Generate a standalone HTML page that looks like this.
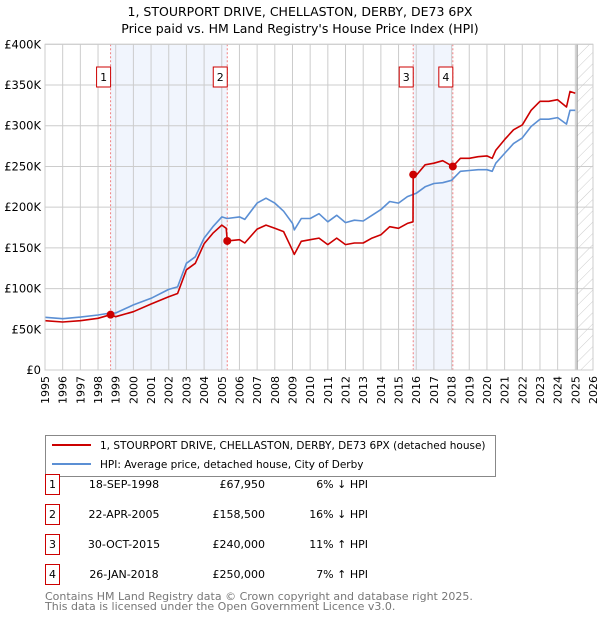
<!DOCTYPE html>
<html><head><meta charset="utf-8"><style>
body{margin:0;background:#fff;font-family:"Liberation Sans","DejaVu Sans",sans-serif;}
</style></head><body>
<svg width="600" height="620" xmlns="http://www.w3.org/2000/svg" font-family="DejaVu Sans, Liberation Sans, sans-serif">
<defs><pattern id="hatch" width="8" height="8" patternUnits="userSpaceOnUse" patternTransform="rotate(45)"><line x1="0" y1="0" x2="0" y2="8" stroke="#ccc" stroke-width="1"/></pattern></defs>
<text x="300" y="16" text-anchor="middle" font-size="12.5">1, STOURPORT DRIVE, CHELLASTON, DERBY, DE73 6PX</text>
<text x="300" y="33" text-anchor="middle" font-size="12.5">Price paid vs. HM Land Registry's House Price Index (HPI)</text>
<g id="plot"></g>
<g id="legend">
<rect x="45.5" y="435.5" width="450" height="41" fill="#fff" stroke="#888"/>
<line x1="52" y1="445" x2="91" y2="445" stroke="#cc0000" stroke-width="2"/>
<text x="100" y="449" font-size="10.5">1, STOURPORT DRIVE, CHELLASTON, DERBY, DE73 6PX (detached house)</text>
<line x1="52" y1="464" x2="91" y2="464" stroke="#5b8fd4" stroke-width="2"/>
<text x="100" y="468" font-size="10.5">HPI: Average price, detached house, City of Derby</text>
</g>
<g id="table" font-size="11"></g>
<text x="45" y="600" font-size="11" fill="#777">Contains HM Land Registry data © Crown copyright and database right 2025.</text>
<text x="45" y="610" font-size="11" fill="#777">This data is licensed under the Open Government Licence v3.0.</text>
</svg>
<script>
const yTicks=[0,50000,100000,150000,200000,250000,300000,350000,400000];
const yTickLabels=["£0","£50K","£100K","£150K","£200K","£250K","£300K","£350K","£400K"];
const years=[1995,1996,1997,1998,1999,2000,2001,2002,2003,2004,2005,2006,2007,2008,2009,2010,2011,2012,2013,2014,2015,2016,2017,2018,2019,2020,2021,2022,2023,2024,2025,2026];
const hpiT=[1995,1996,1997,1998,1998.7,1999,2000,2001,2002,2002.5,2003,2003.5,2004,2004.5,2005,2005.3,2006,2006.3,2007,2007.5,2008,2008.5,2009,2009.1,2009.5,2010,2010.5,2011,2011.5,2012,2012.5,2013,2013.5,2014,2014.5,2015,2015.5,2016,2016.5,2017,2017.5,2018,2018.5,2019,2019.5,2020,2020.3,2020.5,2021,2021.5,2022,2022.5,2023,2023.5,2024,2024.5,2024.7,2025];
const hpiV=[64700,63000,65000,67500,70000,70000,80000,88000,99000,102000,131000,139000,162000,176000,188000,186000,188000,185000,205000,211000,205000,195000,180000,172000,186000,186000,192000,182000,190000,181000,184000,183000,190000,197000,207000,205000,213000,217000,225000,229000,230000,233000,244000,245000,246000,246000,244000,254000,266000,278000,285000,299000,308000,308000,310000,302000,319000,319000];
const priceT=[1995,1996,1997,1998,1998.71,1999,2000,2001,2002,2002.5,2003,2003.5,2004,2004.5,2005,2005.25,2005.31,2006,2006.3,2007,2007.5,2008,2008.5,2009,2009.1,2009.5,2010,2010.5,2011,2011.5,2012,2012.5,2013,2013.5,2014,2014.5,2015,2015.5,2015.82,2015.83,2016,2016.5,2017,2017.5,2018.07,2018.5,2019,2019.5,2020,2020.3,2020.5,2021,2021.5,2022,2022.5,2023,2023.5,2024,2024.5,2024.7,2025];
const priceV=[60600,59000,60600,63500,67950,65500,71600,81000,90000,94000,123000,131000,155000,168000,178000,174000,158500,160000,156000,173000,178000,174000,170000,147000,142000,158000,160000,162000,154000,162000,154000,156000,156000,162000,166000,176000,174000,180000,182000,240000,239000,252000,254000,257000,250000,260000,260000,262000,263000,260000,270000,283000,295000,301000,319000,330000,330000,332000,323000,342000,340000];
const saleNums=["1","2","3","4"];
const saleT=[1998.71,2005.31,2015.83,2018.07];
const saleV=[67950,158500,240000,250000];
const saleDates=["18-SEP-1998","22-APR-2005","30-OCT-2015","26-JAN-2018"];
const salePrices=["£67,950","£158,500","£240,000","£250,000"];
const saleDiffs=["6% ↓ HPI","16% ↓ HPI","11% ↑ HPI","7% ↑ HPI"];
const X0=45,X1=593,Y0=370,Y1=44.3;
const xs=t=>X0+(t-1995)/(2026-1995)*(X1-X0);
const ys=v=>Y0-v/400000*(Y0-Y1);
const NS="http://www.w3.org/2000/svg";
function mk(p,tag,a){const e=document.createElementNS(NS,tag);for(const k in a)e.setAttribute(k,a[k]);p.appendChild(e);return e;}
const plot=document.getElementById('plot');
for(let i=0;i<saleT.length;i+=2){const r=mk(plot,'rect',{x:xs(saleT[i]),y:Y1,width:xs(saleT[i+1])-xs(saleT[i]),height:Y0-Y1,fill:'#eef3fc',opacity:0.8});

}
const hz=mk(plot,'rect',{x:xs(2025.1),y:Y1,width:X1-xs(2025.1),height:Y0-Y1,fill:'url(#hatch)'});


years.forEach(y=>{const l=mk(plot,'line',{x1:xs(y),x2:xs(y),y1:Y1,y2:Y0,stroke:'#ccc','stroke-width':1});


const t=mk(plot,'text',{x:0,y:0,'font-size':11,'text-anchor':'end',transform:`translate(${xs(y)+4},${Y0+6}) rotate(-90)`});t.textContent=y;

});
yTicks.forEach((v,i)=>{const l=mk(plot,'line',{x1:X0,x2:X1,y1:ys(v),y2:ys(v),stroke:'#ccc','stroke-width':1});


const t=mk(plot,'text',{x:X0-4,y:ys(v)+4,'font-size':11.5,'text-anchor':'end'});t.textContent=yTickLabels[i];

});
const vl=mk(plot,'line',{x1:xs(2025.1),x2:xs(2025.1),y1:Y1,y2:Y0,stroke:'#999','stroke-width':1.2});


saleT.forEach((t,i)=>{const l=mk(plot,'line',{x1:xs(t),x2:xs(t),y1:Y1,y2:Y0,stroke:'#f08080','stroke-dasharray':'2,2'});


const b=mk(plot,'rect',{x:xs(t)-14,y:67,width:14,height:20,fill:'#fff',stroke:'#cc0000'});


const tx=mk(plot,'text',{x:xs(t)-7,y:81,'font-size':11,'text-anchor':'middle'});tx.textContent=saleNums[i];

});
function line(T,V,color,name){const d=T.map((t,i)=>(i?'L':'M')+xs(t).toFixed(1)+','+ys(V[i]).toFixed(1)).join('');
const p=mk(plot,'path',{d:d,fill:'none',stroke:color,'stroke-width':1.6,'stroke-linejoin':'round'});

}
line(hpiT,hpiV,'#5b8fd4','hpi-line');
line(priceT,priceV,'#cc0000','price-line');
saleT.forEach((t,i)=>{const c=mk(plot,'circle',{cx:xs(t),cy:ys(saleV[i]),r:4,fill:'#cc0000'});

});
mk(plot,'rect',{x:X0,y:Y1,width:X1-X0,height:Y0-Y1,fill:'none',stroke:'#ccc'});
const tb=document.getElementById('table');
saleT.forEach((t,i)=>{const y=483+30*i;
const b=mk(tb,'rect',{x:45.5,y:y-8.5,width:14,height:20,fill:'#fff',stroke:'#cc0000'});


const cells=[[52.5,'middle',saleNums[i]],[124,'middle',saleDates[i]],[265,'end',salePrices[i]],[368,'end',saleDiffs[i]]];
cells.forEach(c=>{const e=mk(tb,'text',{x:c[0],y:y+5,'text-anchor':c[1]});e.textContent=c[2];

});});
</script>
</body></html>
